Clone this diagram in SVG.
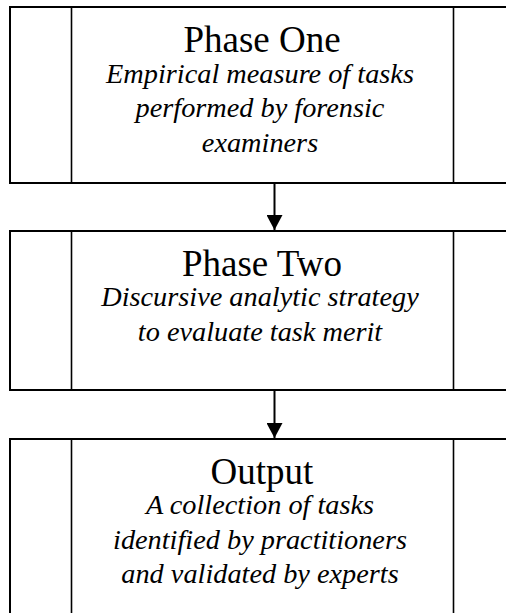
<svg xmlns="http://www.w3.org/2000/svg" width="506" height="613" viewBox="0 0 506 613">
<style>
.box{fill:#fff;stroke:#000;stroke-width:2}
.bar{stroke:#000;stroke-width:1.6}
.title{font-family:"Liberation Serif","Times New Roman",serif;font-size:37px;text-anchor:middle;fill:#000}
.desc{font-family:"Liberation Serif","Times New Roman",serif;font-size:28.3px;font-style:italic;text-anchor:middle;fill:#000}
.conn{stroke:#000;stroke-width:2;fill:none}
</style>
<defs>
<marker id="ah" markerUnits="userSpaceOnUse" markerWidth="16" markerHeight="16" refX="15" refY="8" orient="auto">
<path d="M0,0 L15,8 L0,16 Z" fill="#000"/>
</marker>
</defs>
<rect width="506" height="613" fill="#fff"/>
<g id="phase-one">
<rect class="box" x="10" y="7" width="530" height="176"/>
<line class="bar" x1="71.5" y1="7" x2="71.5" y2="183"/>
<line class="bar" x1="453.5" y1="7" x2="453.5" y2="183"/>
<text class="title" x="262" y="52">Phase One</text>
<text class="desc" x="260" y="82.5">Empirical measure of tasks</text>
<text class="desc" x="260" y="117">performed by forensic</text>
<text class="desc" x="260" y="151.5">examiners</text>
</g>
<g id="phase-two">
<rect class="box" x="10" y="231" width="530" height="159"/>
<line class="bar" x1="71.5" y1="231" x2="71.5" y2="390"/>
<line class="bar" x1="453.5" y1="231" x2="453.5" y2="390"/>
<text class="title" x="262" y="276">Phase Two</text>
<text class="desc" x="260" y="306">Discursive analytic strategy</text>
<text class="desc" x="260" y="340.5">to evaluate task merit</text>
</g>
<g id="output">
<rect class="box" x="10" y="439" width="530" height="200"/>
<line class="bar" x1="71.5" y1="439" x2="71.5" y2="639"/>
<line class="bar" x1="453.5" y1="439" x2="453.5" y2="639"/>
<text class="title" x="262" y="484">Output</text>
<text class="desc" x="260" y="514">A collection of tasks</text>
<text class="desc" x="260" y="548.5">identified by practitioners</text>
<text class="desc" x="260" y="583">and validated by experts</text>
</g>
<g id="connectors">
<line class="conn" x1="274.5" y1="184" x2="274.5" y2="230" marker-end="url(#ah)"/>
<line class="conn" x1="274.5" y1="391" x2="274.5" y2="438" marker-end="url(#ah)"/>
</g>
</svg>
